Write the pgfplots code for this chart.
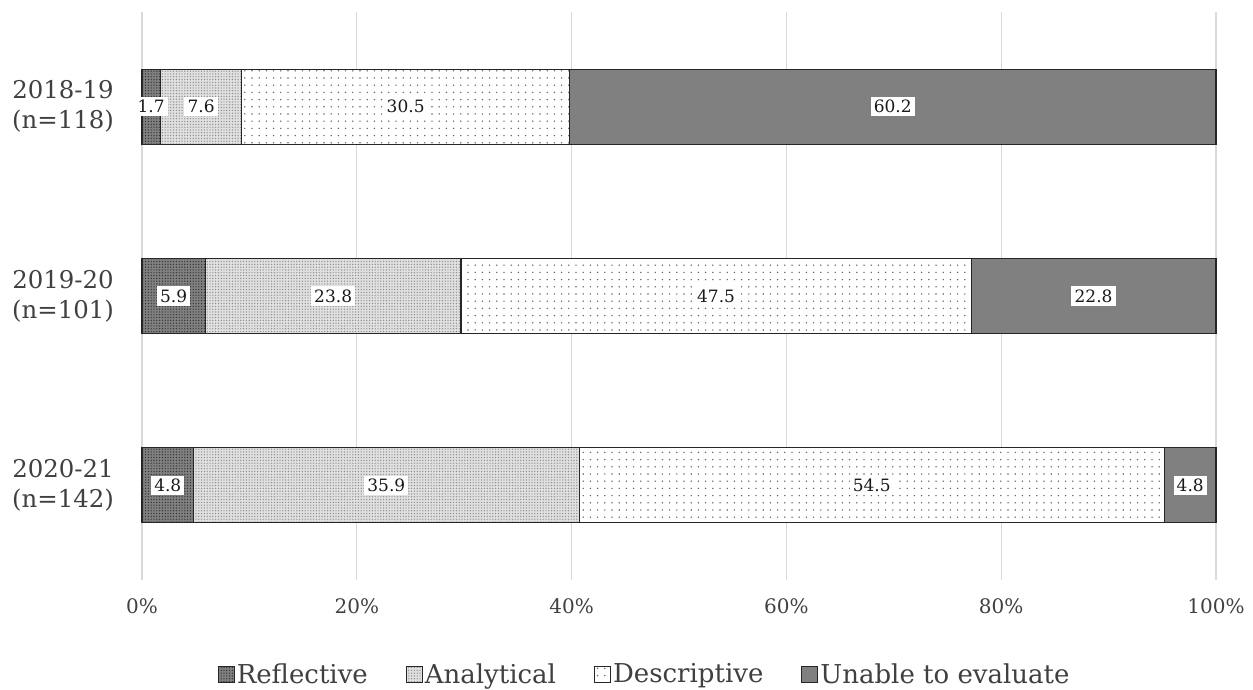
\documentclass[border=0pt]{standalone}
\usepackage{fontspec}
\setmainfont{DejaVu Serif}
\usepackage{pgfplots}
\pgfplotsset{compat=1.18}
\usetikzlibrary{patterns,patterns.meta}

\pgfplotstableread{
y val
2 1.7
1 5.9
0 4.8
}\reflective
\pgfplotstableread{
y val
2 7.6
1 23.8
0 35.9
}\analytical
\pgfplotstableread{
y val
2 30.5
1 47.5
0 54.5
}\descriptive
\pgfplotstableread{
y val
2 60.2
1 22.8
0 4.8
}\unable
% label positions (segment midpoints) and texts
\pgfplotstableread{
x y lab
0.85 2 1.7
5.5 2 7.6
24.55 2 30.5
69.9 2 60.2
2.95 1 5.9
17.8 1 23.8
53.45 1 47.5
88.6 1 22.8
2.4 0 4.8
22.75 0 35.9
67.95 0 54.5
97.6 0 4.8
}\labels

\tikzset{
  reflstyle/.style={fill=black!50, draw=black!85, line width=0.6pt,
    postaction={pattern={Dots[distance=1.4pt,radius=0.35pt]}, pattern color=black!80}},
  analstyle/.style={fill=black!12, draw=black!85, line width=0.6pt,
    postaction={pattern={Dots[distance=1.4pt,radius=0.35pt]}, pattern color=black!45}},
  descstyle/.style={fill=white, draw=black!85, line width=0.6pt,
    postaction={pattern={Dots[distance=3.6pt,radius=0.4pt]}, pattern color=black!60}},
  unabstyle/.style={fill=black!50, draw=black!85, line width=0.6pt},
}

\begin{document}
\begin{tikzpicture}
\useasboundingbox (-71pt,-55pt) rectangle (555.5pt,290pt);
\begin{axis}[
  at={(0,0)}, anchor=south west,
  scale only axis, width=537pt, height=284pt,
  xbar stacked, bar width=37.5pt,
  xmin=0, xmax=100, ymin=-0.5, ymax=2.5,
  axis line style={draw=none},
  tick style={draw=none},
  xmajorgrids, major grid style={black!15, line width=0.6pt},
  xtick={0,20,40,60,80,100},
  xticklabels={0\%,20\%,40\%,60\%,80\%,100\%},
  ytick={0,1,2},
  yticklabels={{2020-21\\(n=142)},{2019-20\\(n=101)},{2018-19\\(n=118)}},
  major tick length=0pt,
  tick label style={text=black!75},
  xticklabel style={font=\fontsize{10}{11}\selectfont, yshift=-6pt},
  yticklabel style={font=\fontsize{12.2}{15}\selectfont, align=center, xshift=-10.5pt},
  legend style={at={(0.468,-0.167)}, anchor=center, draw=none, legend columns=-1,
    font=\fontsize{13}{14}\selectfont, text=black!75,
    nodes={inner xsep=1pt},
    /tikz/every even column/.append style={column sep=18pt}},
  legend image code/.code={\draw[#1, line width=0.5pt] (0pt,-4pt) rectangle (8pt,4pt);},
  legend cell align=left,
  clip=false,
]
\addplot[reflstyle] table[x=val,y=y]{\reflective};
\addplot[analstyle] table[x=val,y=y]{\analytical};
\addplot[descstyle] table[x=val,y=y]{\descriptive};
\addplot[unabstyle] table[x=val,y=y]{\unable};
\legend{Reflective,Analytical,Descriptive,Unable to evaluate}
\end{axis}
\begin{axis}[
  at={(0,0)}, anchor=south west,
  scale only axis, width=537pt, height=284pt,
  xmin=0, xmax=100, ymin=-0.5, ymax=2.5,
  hide axis, clip=false,
]
\addplot[draw=none, mark=none, nodes near coords, point meta=explicit symbolic,
  every node near coord/.append style={anchor=center, fill=white, inner sep=1.6pt,
    text=black!90, font=\fontsize{8.5}{9}\selectfont}]
  table[x=x, y=y, meta=lab]{\labels};
\end{axis}
\end{tikzpicture}
\end{document}
